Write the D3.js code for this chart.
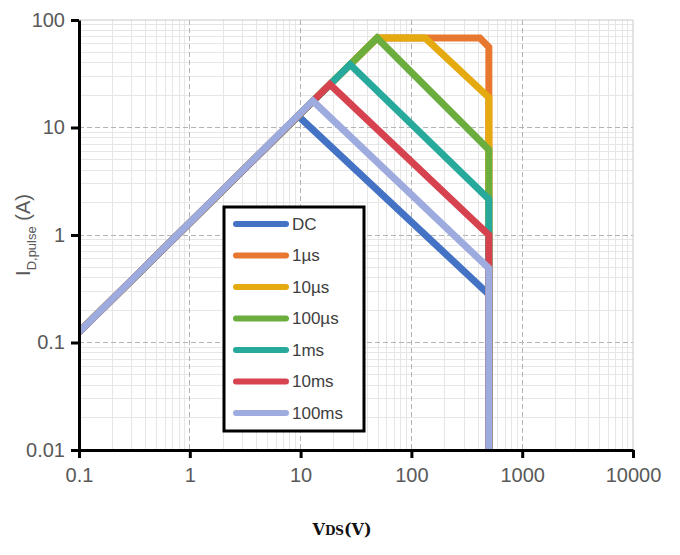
<!DOCTYPE html>
<html>
<head>
<meta charset="utf-8">
<script src="https://cdn.jsdelivr.net/npm/d3@7"></script>
<style>
  html, body { margin: 0; padding: 0; background: #fff; }
  svg { display: block; }
</style>
</head>
<body>
<svg id="chart" width="680" height="555"></svg>
<script>
// ---- data ----
const xTickValues = [0.1, 1, 10, 100, 1000, 10000];
const xTickLabels = ["0.1", "1", "10", "100", "1000", "10000"];
const yTickValues = [0.01, 0.1, 1, 10, 100];
const yTickLabels = ["0.01", "0.1", "1", "10", "100"];

const seriesNames = ["DC", "1\u00b5s", "10\u00b5s", "100\u00b5s", "1ms", "10ms", "100ms"];
const seriesColors = ["#4472c4", "#e8782f", "#e4aa10", "#6bae3e", "#27aa9c", "#d6434f", "#9eabdf"];

// V_DS (V) points per series
const seriesVolts = [
  [0.1, 9.5, 500, 500],
  [0.1, 49, 415, 500, 500],
  [0.1, 49, 133, 500, 500],
  [0.1, 49, 500, 500],
  [0.1, 28, 500, 500],
  [0.1, 18.4, 500, 500],
  [0.1, 12.9, 500, 500]
];
// I_D,pulse (A) points per series
const seriesAmps = [
  [0.125, 12.8, 0.28, 0.01],
  [0.125, 68, 68, 56, 0.01],
  [0.125, 68, 68, 19, 0.01],
  [0.125, 68, 6.2, 0.01],
  [0.125, 38.5, 2.15, 0.01],
  [0.125, 25.2, 1.0, 0.01],
  [0.125, 17.7, 0.49, 0.01]
];

// ---- layout ----
const pL = 79, pR = 633, pT = 20, pB = 450;
const svg = d3.select("#chart");

const x = d3.scaleLog().domain([0.1, 10000]).range([pL, pR]);
const y = d3.scaleLog().domain([0.01, 100]).range([pB, pT]);

// minor grid values
const minorX = [], minorY = [];
for (let e = -1; e < 4; e++) for (let k = 2; k <= 9; k++) minorX.push(k * Math.pow(10, e));
for (let e = -2; e < 2; e++) for (let k = 2; k <= 9; k++) minorY.push(k * Math.pow(10, e));

const grid = svg.append("g");
grid.selectAll(".mx").data(minorX).join("line")
  .attr("x1", d => x(d)).attr("x2", d => x(d)).attr("y1", pT).attr("y2", pB)
  .attr("stroke", "#e6e6e6").attr("stroke-width", 1).attr("shape-rendering", "crispEdges");
grid.selectAll(".my").data(minorY).join("line")
  .attr("y1", d => y(d)).attr("y2", d => y(d)).attr("x1", pL).attr("x2", pR)
  .attr("stroke", "#e6e6e6").attr("stroke-width", 1).attr("shape-rendering", "crispEdges");
grid.selectAll(".Mx").data(xTickValues.slice(1, -1)).join("line")
  .attr("x1", d => x(d)).attr("x2", d => x(d)).attr("y1", pT).attr("y2", pB)
  .attr("stroke", "#b4b4b4").attr("stroke-width", 1).attr("stroke-dasharray", "5,3")
  .attr("shape-rendering", "crispEdges");
grid.selectAll(".My").data(yTickValues.slice(1, -1)).join("line")
  .attr("y1", d => y(d)).attr("y2", d => y(d)).attr("x1", pL).attr("x2", pR)
  .attr("stroke", "#b4b4b4").attr("stroke-width", 1).attr("stroke-dasharray", "5,3")
  .attr("shape-rendering", "crispEdges");
grid.append("line").attr("x1", pL).attr("x2", pR).attr("y1", pT).attr("y2", pT)
  .attr("stroke", "#c8c8c8").attr("stroke-width", 1);
grid.append("line").attr("x1", pR).attr("x2", pR).attr("y1", pT).attr("y2", pB)
  .attr("stroke", "#c8c8c8").attr("stroke-width", 1);

// ---- series ----
svg.append("clipPath").attr("id", "plotclip").append("rect")
  .attr("x", pL).attr("y", pT - 10).attr("width", pR - pL).attr("height", pB - pT + 10);

const line = d3.line().x(d => x(d[0])).y(d => y(d[1]));
const lines = svg.append("g").attr("clip-path", "url(#plotclip)");
seriesNames.forEach((name, i) => {
  const pts = seriesVolts[i].map((v, j) => [v, seriesAmps[i][j]]);
  lines.append("path").datum(pts)
    .attr("d", line)
    .attr("fill", "none")
    .attr("stroke", seriesColors[i])
    .attr("stroke-width", 7)
    .attr("stroke-linejoin", "miter")
    .attr("stroke-linecap", "butt");
});

// ---- axes ----
const xAxis = d3.axisBottom(x).tickValues(xTickValues)
  .tickFormat((d, i) => xTickLabels[i]).tickSize(8).tickSizeOuter(0).tickPadding(10);
const yAxis = d3.axisLeft(y).tickValues(yTickValues)
  .tickFormat((d, i) => yTickLabels[i]).tickSize(8).tickSizeOuter(0).tickPadding(6);

const gx = svg.append("g").attr("transform", `translate(0,${pB})`).call(xAxis);
const gy = svg.append("g").attr("transform", `translate(${pL},0)`).call(yAxis);
[gx, gy].forEach(g => {
  g.select(".domain").attr("stroke", "#000").attr("stroke-width", 3);
  g.selectAll(".tick line").attr("stroke", "#000").attr("stroke-width", 3);
  g.selectAll(".tick text")
    .attr("fill", "#595959")
    .style("font-family", "'Liberation Sans', Arial, sans-serif")
    .style("font-size", "20px");
});

// ---- axis titles ----
const yt = svg.append("text")
  .attr("transform", "translate(30,235) rotate(-90)")
  .attr("text-anchor", "middle")
  .attr("fill", "#595959")
  .style("font-family", "'Liberation Sans', Arial, sans-serif")
  .style("font-size", "20px");
yt.append("tspan").text("I");
yt.append("tspan").attr("dy", 6).style("font-size", "13px").text("D,pulse");
yt.append("tspan").attr("dy", -6).text(" (A)");

const xt = svg.append("text")
  .attr("x", 342).attr("y", 535)
  .attr("text-anchor", "middle")
  .attr("fill", "#111")
  .style("font-family", "'DejaVu Serif', 'Liberation Serif', serif")
  .style("font-weight", "bold")
  .style("font-size", "16px");
xt.append("tspan").text("V");
xt.append("tspan").style("font-size", "12px").text("DS");
xt.append("tspan").text("(V)");

// ---- legend ----
const lg = svg.append("g");
lg.append("rect")
  .attr("x", 224).attr("y", 207).attr("width", 140).attr("height", 224)
  .attr("fill", "#fff").attr("stroke", "#000").attr("stroke-width", 3);
seriesNames.forEach((name, i) => {
  const yy = 224 + i * 31.5;
  lg.append("line")
    .attr("x1", 236).attr("x2", 286).attr("y1", yy).attr("y2", yy)
    .attr("stroke", seriesColors[i]).attr("stroke-width", 6).attr("stroke-linecap", "round");
  lg.append("text")
    .attr("x", 292).attr("y", yy).attr("dy", "0.35em")
    .attr("fill", "#404040")
    .style("font-family", "'Liberation Sans', Arial, sans-serif")
    .style("font-size", "17px")
    .text(name);
});
</script>
</body>
</html>
